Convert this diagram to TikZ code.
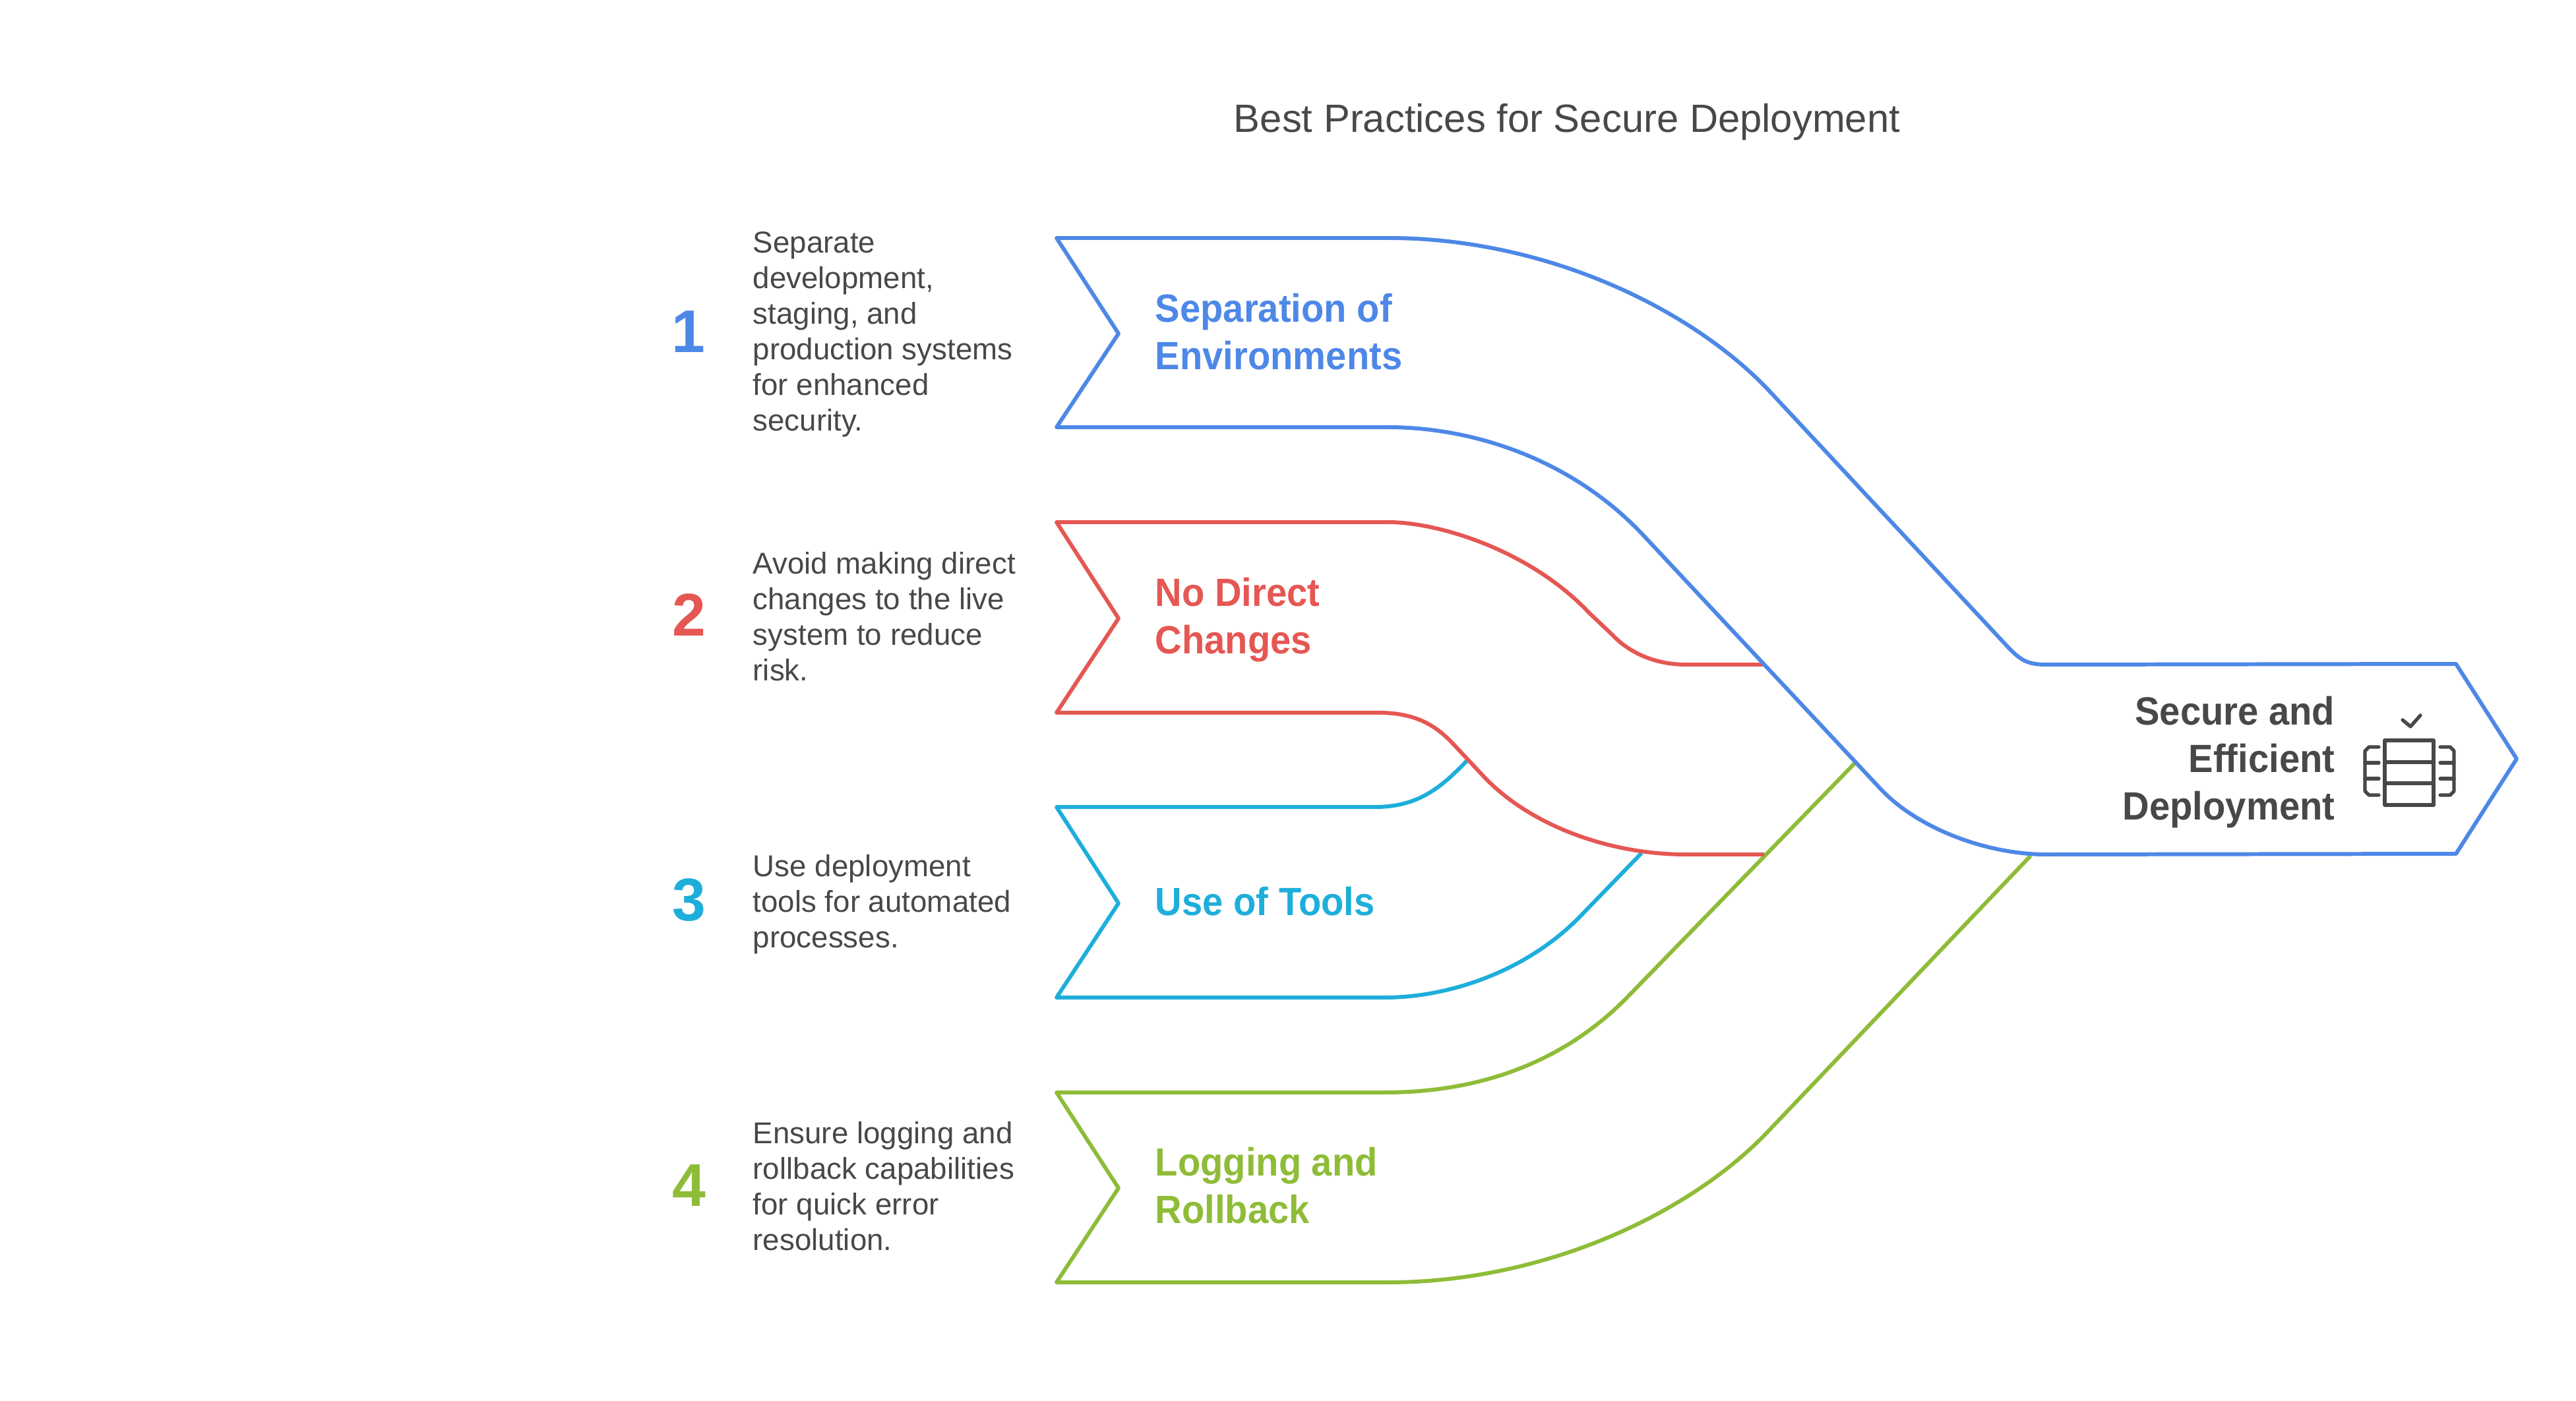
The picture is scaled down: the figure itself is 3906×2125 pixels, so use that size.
\documentclass[tikz,border=0pt]{standalone}
\usepackage{fontspec}
\setmainfont{Liberation Sans}
\newfontfamily\bandfont[FakeStretch=0.94]{Liberation Sans}
\usepackage{tikz}
\definecolor{bandblue}{HTML}{4E88E7}
\definecolor{bandred}{HTML}{E55753}
\definecolor{bandcyan}{HTML}{1EAEDB}
\definecolor{bandgreen}{HTML}{8FBC38}
\definecolor{inkgrey}{HTML}{484848}
\tikzset{
  band/.style={line width=1.7pt, line join=round},
  desc/.style={anchor=west, inner sep=0pt, align=left, text=inkgrey, font=\fontsize{13}{15.35}\selectfont},
  lab/.style={anchor=west, inner sep=0pt, align=left, font=\bandfont\bfseries\fontsize{17}{20.5}\selectfont},
  num/.style={inner sep=0pt, font=\bfseries\fontsize{26}{30}\selectfont},
  icon/.style={line width=1.5pt, draw=inkgrey, line cap=round, line join=round}
}

\begin{document}
\begin{tikzpicture}[x=0.01cm, y=-0.01cm]

\useasboundingbox (0,0) rectangle (3906,2125);

% Title
\node[inner sep=0pt, text=inkgrey, font=\fontsize{17}{21}\selectfont] (title) at (2376,185) {Best Practices for Secure Deployment};

% Green band
\draw[band, bandgreen]
  (3079,1298) -- (2680,1717)
  .. controls (2561,1842) and (2340,1945) .. (2105,1945)
  -- (1602,1945) -- (1696,1802) -- (1602,1657) -- (2100,1657)
  .. controls (2220,1657) and (2357,1625) .. (2467,1513)
  -- (2813,1157);

% Cyan band
\draw[band, bandcyan]
  (2489,1294) -- (2393,1393)
  .. controls (2308,1478) and (2190,1513) .. (2100,1513)
  -- (1602,1513) -- (1696,1370) -- (1602,1224) -- (2085,1224)
  .. controls (2150,1224) and (2185,1195) .. (2225,1153);

% Red band
\draw[band, bandred]
  (2675,1296) -- (2556,1296)
  .. controls (2440,1296) and (2320,1252) .. (2250,1178)
  -- (2205,1130)
  .. controls (2180,1103) and (2150,1081) .. (2090,1081)
  -- (1602,1081) -- (1696,938) -- (1602,792) -- (2105,792)
  .. controls (2180,792) and (2320,834) .. (2410,930)
  -- (2445,963)
  .. controls (2470,990) and (2510,1008) .. (2556,1008)
  -- (2675,1008);

% Blue band
\draw[band, bandblue]
  (3103,1296) -- (3724,1295) -- (3816,1151) -- (3724,1007) -- (3103,1008)
  .. controls (3075,1008) and (3065,1002) .. (3047,984)
  -- (2680,590)
  .. controls (2560,465) and (2340,361) .. (2105,361)
  -- (1602,361) -- (1696,506) -- (1602,648) -- (2105,648)
  .. controls (2230,648) and (2380,694) .. (2490,810)
  -- (2850,1195)
  .. controls (2905,1255) and (3010,1296) .. (3103,1296);

% Labels in the bands
\node[lab, text=bandblue] (sepLabel) at (1751,503) {Separation of\\Environments};
\node[lab, text=bandred] (directLabel) at (1751,940) {No Direct\\Changes};
\node[lab, text=bandcyan] (toolsLabel) at (1751,1367) {Use of Tools};
\node[lab, text=bandgreen] (logLabel) at (1751,1798) {Logging and\\Rollback};

% Numbers
\node[num, text=bandblue] (numOne) at (1044,503) {1};
\node[num, text=bandred] (numTwo) at (1045,933) {2};
\node[num, text=bandcyan] (numThree) at (1045,1365) {3};
\node[num, text=bandgreen] (numFour) at (1045,1798) {4};

% Descriptions
\node[desc] (sepText) at (1141,507) {Separate\\development,\\staging, and\\production systems\\for enhanced\\security.};
\node[desc] (directText) at (1141,935) {Avoid making direct\\changes to the live\\system to reduce\\risk.};
\node[desc] (toolsText) at (1141,1372) {Use deployment\\tools for automated\\processes.};
\node[desc] (logText) at (1141,1799) {Ensure logging and\\rollback capabilities\\for quick error\\resolution.};

% Result
\node[anchor=east, inner sep=0pt, align=right, text=inkgrey, font=\bandfont\bfseries\fontsize{17}{20.5}\selectfont] (resultLabel) at (3541,1156) {Secure and\\Efficient\\Deployment};

% Icon
\draw[icon] (3616,1123) rectangle (3690,1221);
\draw[icon] (3616,1156) -- (3690,1156);
\draw[icon] (3616,1188) -- (3690,1188);
\draw[icon] (3607,1133) -- (3592,1133) -- (3586,1139) -- (3586,1200) -- (3592,1206) -- (3607,1206);
\draw[icon] (3586,1157) -- (3607,1157);
\draw[icon] (3586,1181) -- (3607,1181);
\draw[icon] (3700,1133) -- (3715,1133) -- (3721,1139) -- (3721,1200) -- (3715,1206) -- (3700,1206);
\draw[icon] (3700,1157) -- (3721,1157);
\draw[icon] (3700,1181) -- (3721,1181);
\draw[icon] (3643,1092) -- (3655,1102) -- (3670,1085);

\end{tikzpicture}
\end{document}
